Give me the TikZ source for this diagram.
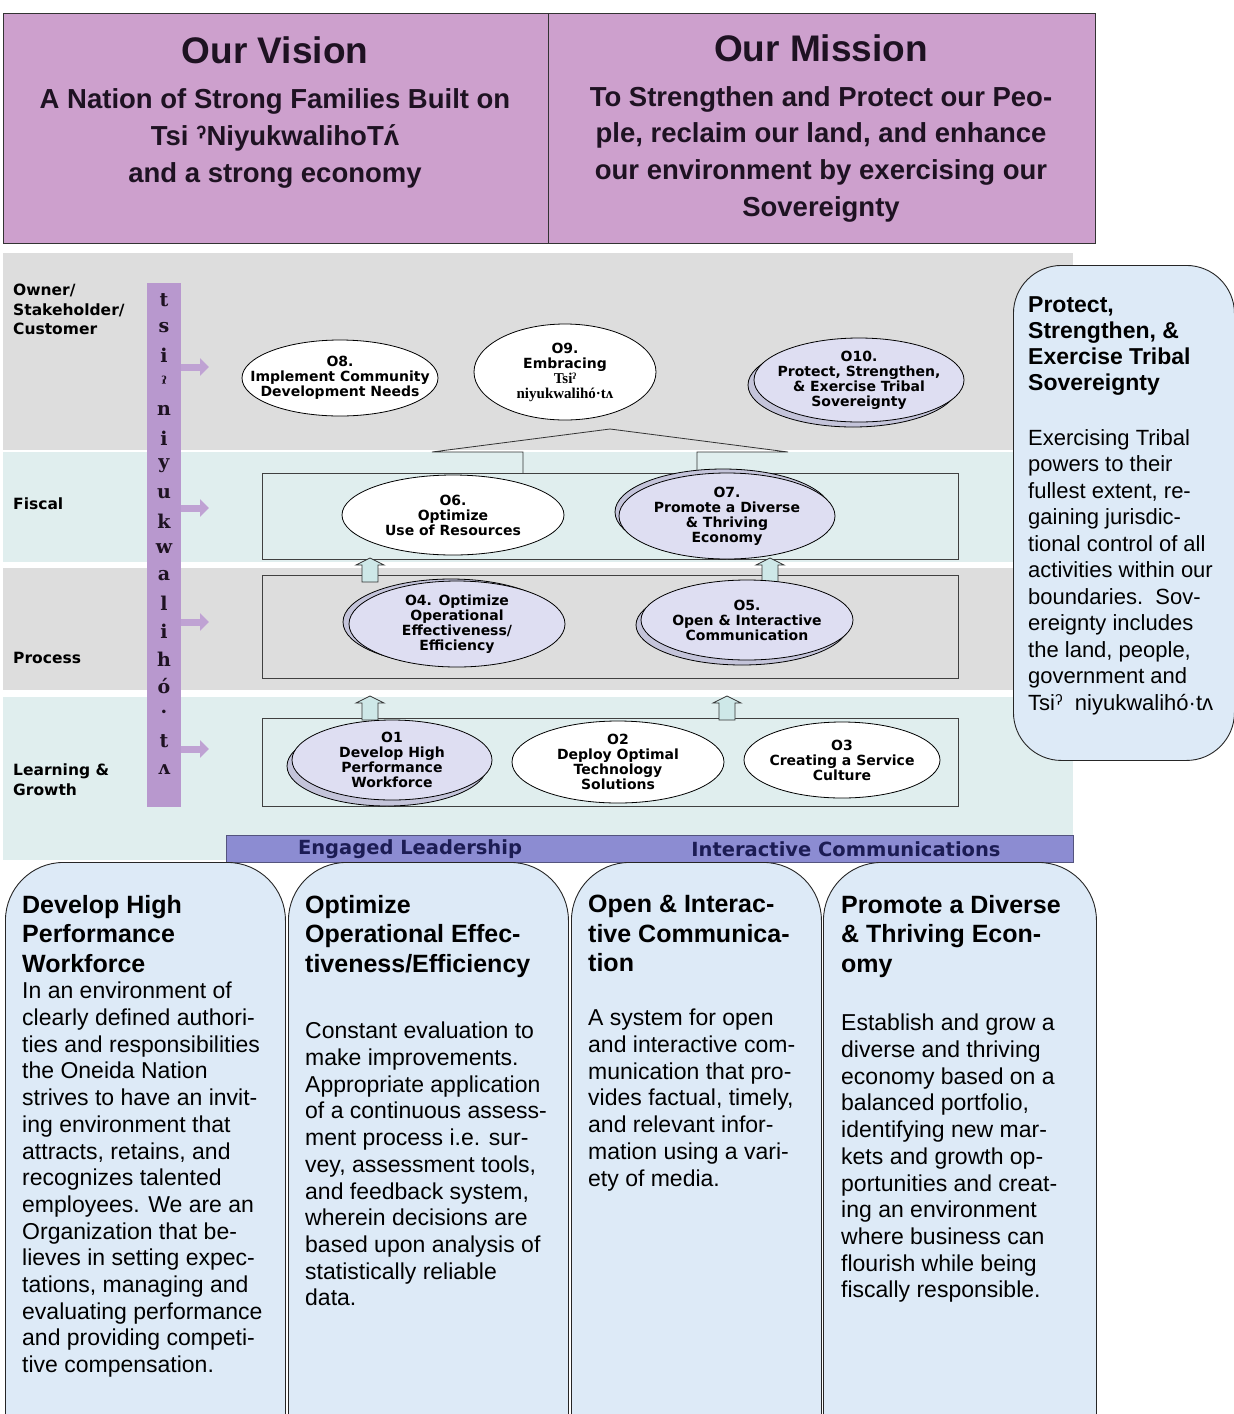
\documentclass[tikz,border=0pt]{standalone}
\usepackage{fontspec}
\setmainfont{Liberation Sans}
\newfontfamily\widefont{DejaVu Sans}
\newfontfamily\slabfont{DejaVu Serif}
\newfontfamily\seriffont{Liberation Serif}
\usepackage{xcolor}
\usepackage{tikz}
\usetikzlibrary{shapes.geometric,shadows,arrows.meta}

\definecolor{visionpink}{RGB}{205,160,205}
\definecolor{bandgray}{RGB}{221,221,221}
\definecolor{bandteal}{RGB}{224,238,238}
\definecolor{strippurple}{RGB}{184,152,206}
\definecolor{lavender}{RGB}{222,222,242}
\definecolor{lavshadow}{RGB}{196,196,218}
\definecolor{arrowteal}{RGB}{206,232,232}
\definecolor{barblue}{RGB}{140,140,210}
\definecolor{barnavy}{RGB}{28,28,84}
\definecolor{cardblue}{RGB}{221,234,247}
\definecolor{inkdark}{RGB}{30,18,34}

% hollow block arrow pointing up, base centre at #1
\newcommand{\blockup}[1]{\draw[uparrow] (#1) ++(-8,0) -- ++(0,-17) -- ++(-6,0) -- ++(14,-7) -- ++(14,7) -- ++(-6,0) -- ++(0,17) -- cycle;}

\begin{document}
\begin{tikzpicture}[x=1pt,y=-1pt]
\tikzstyle{every node}+=[inner sep=0pt]
\tikzstyle{goal}=[ellipse,draw=black,fill=white,line width=0.8pt,align=center,inner xsep=-30pt,inner ysep=0pt,font=\widefont\bfseries\fontsize{14}{15}\selectfont]
\tikzstyle{keygoal}=[goal,fill=lavender]
\tikzstyle{band}=[anchor=north west,minimum width=1070,draw=none]
\tikzstyle{persp}=[anchor=north west,align=left,font=\widefont\bfseries\fontsize{15.5}{19.5}\selectfont]
\tikzstyle{tier}=[anchor=north west,draw=black!75,line width=0.8pt,minimum width=696]
\tikzstyle{uparrow}=[draw=black!80,fill=arrowteal,line width=0.8pt]
\tikzstyle{barrow}=[strippurple!90,line width=7pt,-{Triangle[length=9pt,width=17pt]}]
\tikzstyle{card}=[anchor=north west,draw=black!85,fill=cardblue,line width=0.9pt,rounded corners=58pt]
\tikzstyle{cardhead}=[anchor=north west,align=left,font=\bfseries\fontsize{25}{29.5}\selectfont]
\tikzstyle{cardbody}=[anchor=north west,align=left,font=\fontsize{23}{26.7}\selectfont]
\tikzstyle{bartext}=[text=barnavy,font=\widefont\bfseries\fontsize{19.5}{20}\selectfont]

\useasboundingbox (0,0) rectangle (1234,1414);
\clip (0,0) rectangle (1234,1414);
\fill[white] (0,0) rectangle (1234,1414);

\node[anchor=north west,draw=black!80,fill=visionpink,line width=1pt,minimum width=545,minimum height=230] (vision) at (3,13) {};
\node[anchor=north west,draw=black!80,fill=visionpink,line width=1pt,minimum width=547,minimum height=230] (mission) at (548,13) {};
\node[text=inkdark,font=\bfseries\fontsize{37}{40}\selectfont] (visiontitle) at (275,50) {Our Vision};
\node[anchor=north,text=inkdark,align=center,font=\bfseries\fontsize{27.5}{37}\selectfont] (visiontext) at (275,88) {A Nation of Strong Families Built on\\Tsi ˀNiyukwalihoTʌ́\\and a strong economy};
\node[text=inkdark,font=\bfseries\fontsize{37}{40}\selectfont] (missiontitle) at (821,48) {Our Mission};
\node[anchor=north,text=inkdark,align=center,font=\bfseries\fontsize{27.5}{36.7}\selectfont] (missiontext) at (821,86) {To Strengthen and Protect our Peo-\\ple, reclaim our land, and enhance\\our environment by exercising our\\Sovereignty};

\node[band,fill=bandgray,minimum height=197] (ownerband) at (3,253) {};
\node[band,fill=bandteal,minimum height=110] (fiscalband) at (3,452) {};
\node[band,fill=bandgray,minimum height=122] (processband) at (3,568) {};
\node[band,fill=bandteal,minimum height=163] (learnband) at (3,697) {};

\node[persp] (owner) at (13,284) {Owner/\\Stakeholder/\\Customer};
\node[persp,anchor=west] (fiscal) at (13,504) {Fiscal};
\node[persp,anchor=west] (process) at (13,658) {Process};
\node[persp] (learning) at (13,764) {Learning \&\\Growth};

\node[anchor=north west,fill=strippurple,minimum width=34,minimum height=524] (tsi) at (147,283) {};
\foreach \ch [count=\i] in {t,s,i,ˀ,n,i,y,u,k,w,a,l,i,h,ó,·,t,ʌ}
  \node[text=inkdark,font=\slabfont\bfseries\fontsize{19}{19}\selectfont] (tsi\i) at (164,300+27.6*\i-27.6) {\ch};

\coordinate (toowner) at (209,367);
\coordinate (tofiscal) at (209,508);
\coordinate (toprocess) at (209,622);
\coordinate (tolearn) at (209,749);
\draw[barrow] (tsi.east |- toowner) -- (toowner);
\draw[barrow] (tsi.east |- tofiscal) -- (tofiscal);
\draw[barrow] (tsi.east |- toprocess) -- (toprocess);
\draw[barrow] (tsi.east |- tolearn) -- (tolearn);

\node[tier,minimum height=86] (fiscalbox) at (262,473) {};
\node[tier,minimum height=103] (processbox) at (262,575) {};
\node[tier,minimum height=88] (learnbox) at (262,718) {};

\draw[black!80,line width=0.8pt] (fiscalbox.north -| 523,0) -- (523,452) -- (432,452) -- (610,429) -- (788,452) -- (697,452) -- (697,490);

\coordinate (upa) at (370,582);
\coordinate (upb) at (770,582);
\coordinate (upc) at (370,720);
\coordinate (upd) at (727,720);
\blockup{upa}
\blockup{upb}
\blockup{upc}
\blockup{upd}

\node[goal,minimum width=196,minimum height=76] (o8) at (340,378) {O8.\\Implement Community\\Development Needs};
\node[goal,minimum width=182,minimum height=96] (o9) at (565,372) {O9.\\Embracing\\{\seriffont\bfseries\fontsize{15}{16}\selectfont Tsiˀ}\\{\seriffont\bfseries\fontsize{15}{16}\selectfont niyukwalihó·tʌ}};
\node[keygoal,minimum width=210,minimum height=84,copy shadow={shadow xshift=-6pt,shadow yshift=-5pt,fill=lavshadow,draw=black}] (o10) at (859,380) {O10.\\Protect, Strengthen,\\\& Exercise Tribal\\Sovereignty};

\node[goal,minimum width=222,minimum height=80] (o6) at (453,515) {O6.\\Optimize\\Use of Resources};
\node[keygoal,minimum width=216,minimum height=86,copy shadow={shadow xshift=-4pt,shadow yshift=4pt,fill=lavshadow,draw=black}] (o7) at (727,516) {O7.\\Promote a Diverse\\\& Thriving\\Economy};

\node[keygoal,minimum width=216,minimum height=86,copy shadow={shadow xshift=-6pt,shadow yshift=2pt,fill=lavshadow,draw=black}] (o4) at (457,624) {O4. Optimize\\Operational\\Effectiveness/\\Efficiency};
\node[keygoal,minimum width=212,minimum height=80,copy shadow={shadow xshift=-5pt,shadow yshift=-5pt,fill=lavshadow,draw=black}] (o5) at (747,620) {O5.\\Open \& Interactive\\Communication};

\node[keygoal,minimum width=200,minimum height=80,copy shadow={shadow xshift=-5pt,shadow yshift=-6pt,fill=lavshadow,draw=black}] (o1) at (392,760) {O1\\Develop High\\Performance\\Workforce};
\node[goal,minimum width=212,minimum height=82] (o2) at (618,762) {O2\\Deploy Optimal\\Technology\\Solutions};
\node[goal,minimum width=196,minimum height=76] (o3) at (842,760) {O3\\Creating a Service\\Culture};

\node[anchor=north west,fill=barblue,draw=barblue!60!black,line width=0.8pt,minimum width=847,minimum height=27] (bar) at (226,835) {};
\node[bartext] (leadership) at (410,849) {Engaged Leadership};
\node[bartext] (communications) at (846,849) {Interactive Communications};

\node[card,minimum width=221,minimum height=495,rounded corners=48pt] (sovcard) at (1013,265) {};
\node[anchor=north west,align=left,font=\bfseries\fontsize{23}{26}\selectfont] (sovhead) at (1028,296) {Protect,\\Strengthen, \&\\Exercise Tribal\\Sovereignty};
\node[anchor=north west,align=left,font=\fontsize{22}{26.5}\selectfont] (sovbody) at (1028,429) {Exercising Tribal\\powers to their\\fullest extent, re-\\gaining jurisdic-\\tional control of all\\activities within our\\boundaries.\ \ Sov-\\ereignty includes\\the land, people,\\government and\\Tsiˀ\ \ niyukwalihó·tʌ};

\node[card,minimum width=280,minimum height=620] (card1) at (5,862) {};
\node[card,minimum width=280,minimum height=620] (card2) at (288,862) {};
\node[card,minimum width=250,minimum height=620] (card3) at (571,862) {};
\node[card,minimum width=273,minimum height=620] (card4) at (823,862) {};

\node[cardhead] (card1head) at (22,895) {Develop High\\Performance\\Workforce};
\node[cardbody] (card1body) at (22,982) {In an environment of\\clearly defined authori-\\ties and responsibilities\\the Oneida Nation\\strives to have an invit-\\ing environment that\\attracts, retains, and\\recognizes talented\\employees. We are an\\Organization that be-\\lieves in setting expec-\\tations, managing and\\evaluating performance\\and providing competi-\\tive compensation.};

\node[cardhead] (card2head) at (305,895) {Optimize\\Operational Effec-\\tiveness/Efficiency};
\node[cardbody] (card2body) at (305,1022) {Constant evaluation to\\make improvements.\\Appropriate application\\of a continuous assess-\\ment process i.e. sur-\\vey, assessment tools,\\and feedback system,\\wherein decisions are\\based upon analysis of\\statistically reliable\\data.};

\node[cardhead] (card3head) at (588,895) {Open \& Interac-\\tive Communica-\\tion};
\node[cardbody] (card3body) at (588,1009) {A system for open\\and interactive com-\\munication that pro-\\vides factual, timely,\\and relevant infor-\\mation using a vari-\\ety of media.};

\node[cardhead] (card4head) at (841,895) {Promote a Diverse\\\& Thriving Econ-\\omy};
\node[cardbody] (card4body) at (841,1014) {Establish and grow a\\diverse and thriving\\economy based on a\\balanced portfolio,\\identifying new mar-\\kets and growth op-\\portunities and creat-\\ing an environment\\where business can\\flourish while being\\fiscally responsible.};
\end{tikzpicture}
\end{document}
